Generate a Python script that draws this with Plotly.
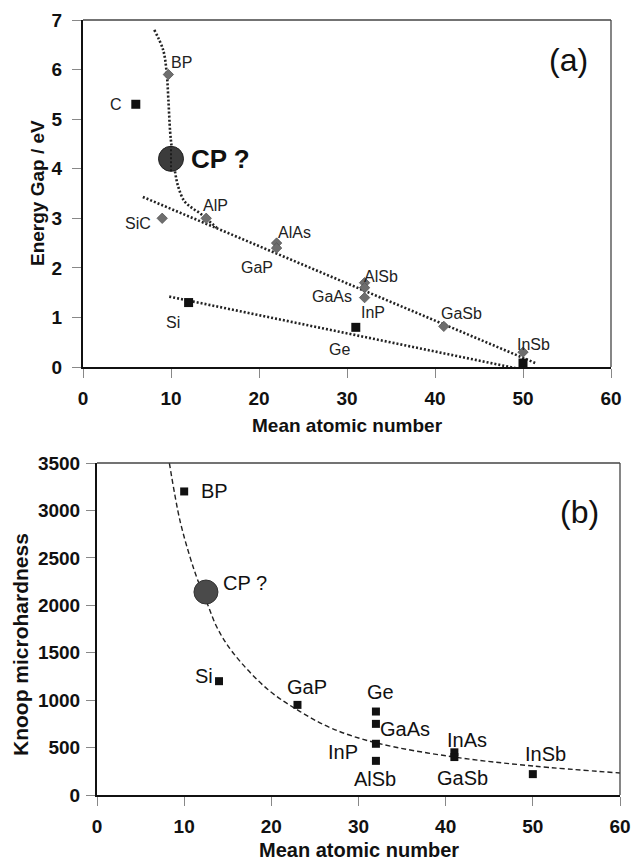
import plotly.graph_objects as go

# ---------------- data: panel (a) energy gap ----------------
gap_diamond_names = ["BP", "SiC", "AlP", "AlAs", "GaP", "AlSb", "InP", "GaAs", "GaSb", "InSb"]
gap_diamond_z = [9.7, 9.0, 14.0, 22, 22, 32, 32, 32, 41, 50]
gap_diamond_eg = [5.9, 3.0, 3.0, 2.5, 2.4, 1.7, 1.6, 1.4, 0.82, 0.3]

gap_square_names = ["C", "Si", "Ge", "Sn"]
gap_square_z = [6, 12, 31, 50]
gap_square_eg = [5.3, 1.3, 0.8, 0.08]

cp_gap_z = [10]
cp_gap_eg = [4.2]

trend1_z = [8.1, 9.1, 9.5, 9.7, 9.9, 10.1, 10.4, 10.8, 11.5, 12.3, 13.3, 14.2, 15.2]
trend1_eg = [6.8, 6.4, 5.95, 5.4, 4.75, 4.4, 4.0, 3.65, 3.35, 3.22, 3.1, 2.96, 2.81]
trend2_z = [6.8, 51.4]
trend2_eg = [3.43, 0.08]
trend3_z = [9.8, 50.7]
trend3_eg = [1.42, -0.08]

# ---------------- data: panel (b) Knoop microhardness ----------------
kh_names = ["BP", "Si", "GaP", "Ge", "GaAs", "InP", "AlSb", "InAs", "GaSb", "InSb"]
kh_z = [10, 14, 23, 32, 32, 32, 32, 41, 41, 50]
kh_h = [3200, 1200, 950, 880, 750, 540, 360, 450, 400, 220]

cp_kh_z = [12.5]
cp_kh_h = [2140]

khfit_z = [8.3, 9.5, 10.7, 11.5, 12.6, 13.8, 15.6, 19.5, 23.3, 27, 32.1, 41, 50, 60]
khfit_h = [3500, 2900, 2500, 2280, 2030, 1760, 1500, 1120, 880, 700, 548, 400, 306, 232]

x_ticks = [0, 10, 20, 30, 40, 50, 60]
gap_ticks = [0, 1, 2, 3, 4, 5, 6, 7]
kh_ticks = [0, 500, 1000, 1500, 2000, 2500, 3000, 3500]

# label placements (data coordinates)
gap_label_pos = {
    "BP": (11.2, 6.15), "C": (3.8, 5.3), "SiC": (6.3, 2.9), "AlP": (15.0, 3.25),
    "AlAs": (24.0, 2.72), "GaP": (19.8, 2.0), "AlSb": (33.9, 1.82), "GaAs": (28.3, 1.43),
    "InP": (32.9, 1.09), "GaSb": (43.0, 1.07), "InSb": (51.2, 0.46), "Ge": (29.2, 0.36),
    "Si": (10.2, 0.89), "Sn": (47.6, -0.3),
}
kh_label_pos = {
    "BP": (13.5, 3205), "Si": (12.3, 1255), "GaP": (24.1, 1140), "Ge": (32.5, 1085),
    "GaAs": (35.3, 695), "InP": (28.2, 453), "AlSb": (31.9, 170), "InAs": (42.5, 580),
    "GaSb": (41.9, 180), "InSb": (51.4, 430),
}

FONT = "Liberation Sans, Arial, sans-serif"
W, H = 635, 860

def px_x(p):
    return p / W

def px_y(p):
    return 1 - p / H

fig = go.Figure()

# ---- panel (a) ----
dot_line = dict(color="#222222", width=2.6, dash="2px,2px")
for zz, ee in [(trend1_z, trend1_eg), (trend2_z, trend2_eg), (trend3_z, trend3_eg)]:
    fig.add_trace(go.Scatter(x=zz, y=ee, mode="lines", line=dict(dot_line, shape="spline"),
                             xaxis="x", yaxis="y", showlegend=False, hoverinfo="skip"))
fig.add_trace(go.Scatter(x=gap_diamond_z, y=gap_diamond_eg, mode="markers",
                         marker=dict(symbol="diamond", size=8, color="#6e6e6e",
                                     line=dict(color="#555555", width=0.8)),
                         xaxis="x", yaxis="y", showlegend=False, cliponaxis=False,
                         text=gap_diamond_names))
fig.add_trace(go.Scatter(x=gap_square_z, y=gap_square_eg, mode="markers",
                         marker=dict(symbol="square", size=9, color="#111111"),
                         xaxis="x", yaxis="y", showlegend=False, cliponaxis=False,
                         text=gap_square_names))
fig.add_trace(go.Scatter(x=cp_gap_z, y=cp_gap_eg, mode="markers",
                         marker=dict(symbol="circle", size=25, color="#3c3c3c",
                                     line=dict(color="#222222", width=1)),
                         xaxis="x", yaxis="y", showlegend=False, cliponaxis=False))
fig.add_trace(go.Scatter(x=[cp_gap_z[0], cp_gap_z[0]], y=[cp_gap_eg[0] - 0.25, cp_gap_eg[0] + 0.25],
                         mode="lines", line=dict(color="#111111", width=1.5, dash="2px,2px"),
                         xaxis="x", yaxis="y", showlegend=False, hoverinfo="skip"))

# ---- panel (b) ----
fig.add_trace(go.Scatter(x=khfit_z, y=khfit_h, mode="lines",
                         line=dict(color="#222222", width=1.4, dash="5px,3px", shape="spline"),
                         xaxis="x2", yaxis="y2", showlegend=False, hoverinfo="skip"))
fig.add_trace(go.Scatter(x=cp_kh_z, y=cp_kh_h, mode="markers",
                         marker=dict(symbol="circle", size=24, color="#4a4a4a",
                                     line=dict(color="#333333", width=1)),
                         xaxis="x2", yaxis="y2", showlegend=False, cliponaxis=False))
fig.add_trace(go.Scatter(x=kh_z, y=kh_h, mode="markers",
                         marker=dict(symbol="square", size=8, color="#111111"),
                         xaxis="x2", yaxis="y2", showlegend=False, cliponaxis=False,
                         text=kh_names))

annotations = []
for name in gap_diamond_names + gap_square_names:
    x, y = gap_label_pos[name]
    annotations.append(dict(x=x, y=y, xref="x", yref="y", text=name, showarrow=False,
                            xanchor="center", yanchor="middle",
                            font=dict(family=FONT, size=16, color="#222222")))
annotations.append(dict(x=12.0, y=4.2, xref="x", yref="y", text="<b>CP ?</b>", showarrow=False,
                        xanchor="left", yanchor="middle",
                        font=dict(family=FONT, size=26, color="#111111")))
annotations.append(dict(x=55.2, y=6.2, xref="x", yref="y", text="(a)", showarrow=False,
                        xanchor="center", yanchor="middle",
                        font=dict(family=FONT, size=32, color="#111111")))
for name in kh_names:
    x, y = kh_label_pos[name]
    annotations.append(dict(x=x, y=y, xref="x2", yref="y2", text=name, showarrow=False,
                            xanchor="center", yanchor="middle",
                            font=dict(family=FONT, size=20, color="#111111")))
annotations.append(dict(x=17.0, y=2235, xref="x2", yref="y2", text="CP ?", showarrow=False,
                        xanchor="center", yanchor="middle",
                        font=dict(family=FONT, size=20, color="#111111")))
annotations.append(dict(x=55.4, y=2985, xref="x2", yref="y2", text="(b)", showarrow=False,
                        xanchor="center", yanchor="middle",
                        font=dict(family=FONT, size=32, color="#111111")))

# axis titles
for (tx, ty, txt, ang, fs) in [
    (347, 425, "<b>Mean atomic number</b>", 0, 19),
    (37, 193, "<b>Energy Gap / eV</b>", -90, 19),
    (359, 850, "<b>Mean atomic number</b>", 0, 20),
    (20, 645, "<b>Knoop microhardness</b>", -90, 21),
]:
    annotations.append(dict(x=px_x(tx), y=px_y(ty), xref="paper", yref="paper", text=txt,
                            showarrow=False, textangle=ang, xanchor="center", yanchor="middle",
                            font=dict(family=FONT, size=fs, color="#111111")))

tick_font = dict(family=FONT, size=19, color="#111111", weight="bold")
common = dict(showgrid=False, zeroline=False, showline=True, linecolor="#111111", linewidth=2,
              ticks="outside", ticklen=9, tickcolor="#888888", tickwidth=1, mirror=False,
              tickfont=tick_font, automargin=False)

fig.update_layout(
    template="none",
    width=W, height=H, margin=dict(l=0, r=0, t=0, b=0, autoexpand=False),
    paper_bgcolor="white", plot_bgcolor="white",
    annotations=annotations,
    xaxis=dict(common, domain=[px_x(83), px_x(611)], range=[0, 60], tickvals=x_ticks,
               anchor="y", ticklabelstandoff=4),
    yaxis=dict(common, domain=[px_y(367), px_y(20)], range=[0, 7], tickvals=gap_ticks,
               anchor="x", ticklabelstandoff=6),
    xaxis2=dict(common, domain=[px_x(97), px_x(620)], range=[0, 60], tickvals=x_ticks,
                anchor="y2", ticklabelstandoff=4),
    yaxis2=dict(common, domain=[px_y(795), px_y(463)], range=[0, 3500], tickvals=kh_ticks,
                anchor="x2", ticklabelstandoff=2),
    shapes=[
        dict(type="line", xref="x domain", yref="y domain", x0=0, x1=1, y0=1, y1=1,
             line=dict(color="#444444", width=1.3)),
        dict(type="line", xref="x domain", yref="y domain", x0=1, x1=1, y0=0, y1=1,
             line=dict(color="#444444", width=1.3)),
        dict(type="line", xref="x2 domain", yref="y2 domain", x0=0, x1=1, y0=1, y1=1,
             line=dict(color="#444444", width=1.3)),
        dict(type="line", xref="x2 domain", yref="y2 domain", x0=1, x1=1, y0=0, y1=1,
             line=dict(color="#444444", width=1.3)),
    ],
)

fig.write_html("out.html")
